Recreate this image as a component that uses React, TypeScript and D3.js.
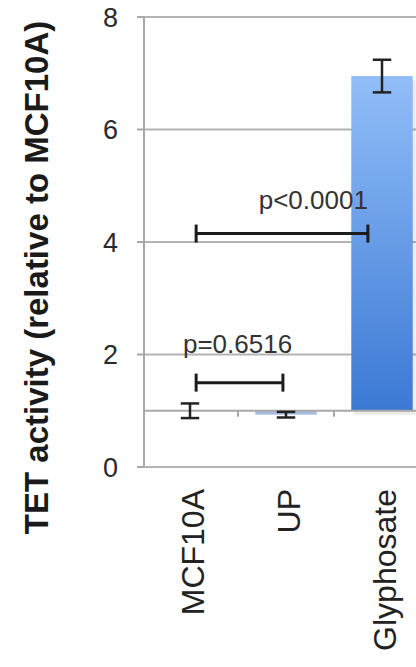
import React from "react";
import * as d3 from "d3";

const categories = ["MCF10A", "UP", "Glyphosate"];
const values = [1.0, 0.93, 6.95];
const errors = [0.13, 0.05, 0.29];
const yTicks = [0, 2, 4, 6, 8];
const baseValue = 1;
const yTitle = "TET activity (relative to MCF10A)";
const comparisonFrom = [0, 0];
const comparisonTo = [1, 2];
const comparisonLevel = [1.5, 4.15];
const comparisonLabel = ["p=0.6516", "p<0.0001"];

const W = 416;
const H = 667;
const FONT = "'Liberation Sans', Arial, Helvetica, sans-serif";

export default function App() {
  const x = d3
    .scaleBand<string>()
    .domain(categories)
    .range([142, 430])
    .paddingInner(0.36)
    .paddingOuter(0.18);
  const y = d3.scaleLinear().domain([0, 8]).range([467, 17]);
  const axisX = 144;
  const bw = x.bandwidth();
  const step = x.step();
  const boundaries = categories.map((c) => (x(c) as number) + bw + (step - bw) / 2);

  return (
    <svg
      width={W}
      height={H}
      style={{ position: "absolute", left: 0, top: 0, background: "#fff" }}
      fontFamily={FONT}
    >
      <defs>
        <linearGradient id="barGrad" x1="0" y1="0" x2="0" y2="1">
          <stop offset="0%" stopColor="#92bef8" />
          <stop offset="100%" stopColor="#3b79d4" />
        </linearGradient>
      </defs>

      {/* gridlines */}
      {yTicks.map((t) => (
        <line key={"g" + t} x1={axisX} x2={W} y1={y(t)} y2={y(t)} stroke="#b4b4b4" strokeWidth={2} />
      ))}
      {/* y ticks */}
      {yTicks.map((t) => (
        <line key={"t" + t} x1={axisX - 7} x2={axisX} y1={y(t)} y2={y(t)} stroke="#a8a8a8" strokeWidth={2} />
      ))}
      {yTicks.map((t) => (
        <text key={"l" + t} x={118} y={y(t)} dy="0.36em" textAnchor="end" fontSize={27} fill="#2a2a2a">
          {t}
        </text>
      ))}
      <line x1={axisX} x2={axisX} y1={y(8)} y2={y(0)} stroke="#a8a8a8" strokeWidth={2} />

      {/* bars */}
      {categories.map((c, i) => {
        const top = Math.min(y(values[i]), y(baseValue));
        const h = Math.abs(y(values[i]) - y(baseValue));
        const up = values[i] >= baseValue;
        return (
          <g key={"b" + c}>
            {up && h > 0 && (
              <rect x={(x(c) as number) + 3} y={top + 4} width={bw} height={h} fill="#000" opacity={0.08} />
            )}
            <rect
              x={x(c) as number}
              y={top}
              width={bw}
              height={h}
              fill={up ? "url(#barGrad)" : "#a9bbe0"}
            />
          </g>
        );
      })}

      {/* horizontal axis crossing at base value */}
      <line x1={axisX} x2={W} y1={y(baseValue)} y2={y(baseValue)} stroke="#a8a8a8" strokeWidth={2} />
      {boundaries.map((b, i) => (
        <line key={"xb" + i} x1={b} x2={b} y1={y(baseValue)} y2={y(baseValue) + 6} stroke="#a8a8a8" strokeWidth={2} />
      ))}

      {/* error bars */}
      {categories.map((c, i) => {
        const cx = (x(c) as number) + bw / 2;
        const cap = bw * 0.15;
        const y1 = y(values[i] + errors[i]);
        const y2 = y(values[i] - errors[i]);
        return (
          <g key={"e" + c} stroke="#222" strokeWidth={2.5}>
            <line x1={cx} x2={cx} y1={y1} y2={y2} />
            <line x1={cx - cap} x2={cx + cap} y1={y1} y2={y1} />
            <line x1={cx - cap} x2={cx + cap} y1={y2} y2={y2} />
          </g>
        );
      })}

      {/* significance brackets */}
      {comparisonLabel.map((lab, i) => {
        const x1 = (x(categories[comparisonFrom[i]]) as number) + bw * 0.6;
        const x2 =
          (x(categories[comparisonTo[i]]) as number) + bw * (comparisonTo[i] === 2 ? 0.27 : 0.45);
        const yy = y(comparisonLevel[i]);
        const capH = 9;
        const isEnd = comparisonTo[i] === 2;
        return (
          <g key={"s" + i}>
            <g stroke="#1c1c1c" strokeWidth={3}>
              <line x1={x1} x2={x2} y1={yy} y2={yy} />
              <line x1={x1} x2={x1} y1={yy - capH} y2={yy + capH} />
              <line x1={x2} x2={x2} y1={yy - capH} y2={yy + capH} />
            </g>
            <text
              x={isEnd ? x2 : (x1 + x2) / 2 - 2}
              y={yy - (isEnd ? 25 : 30)}
              textAnchor={isEnd ? "end" : "middle"}
              fontSize={26}
              fill="#333"
            >
              {lab}
            </text>
          </g>
        );
      })}

      {/* category labels */}
      {categories.map((c) => {
        const cx = (x(c) as number) + bw / 2;
        return (
          <text
            key={"c" + c}
            transform={`translate(${cx + 14},489) rotate(-90)`}
            textAnchor="end"
            fontSize={32}
            fill="#222"
          >
            {c}
          </text>
        );
      })}

      {/* y title */}
      <text
        transform={`translate(48,${(18 + 537) / 2}) rotate(-90)`}
        textAnchor="middle"
        fontSize={33}
        fontWeight="bold"
        fill="#1a1a1a"
      >
        {yTitle}
      </text>
    </svg>
  );
}
